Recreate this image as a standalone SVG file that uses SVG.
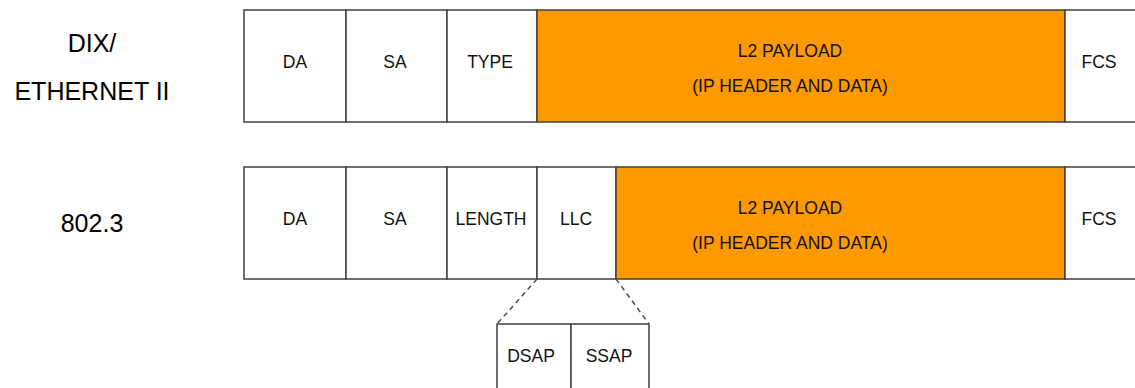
<svg xmlns="http://www.w3.org/2000/svg" width="1135" height="388" viewBox="0 0 1135 388">
<style>
.cell{fill:#ffffff;stroke:#404040;stroke-width:1.5}
.pay{fill:#ff9900;stroke:#404040;stroke-width:1.5}
.t{font-family:"Liberation Sans",Arial,sans-serif;font-size:17.5px;fill:#111;text-anchor:middle}
.lbl{font-family:"Liberation Sans",Arial,sans-serif;font-size:25px;fill:#000;text-anchor:middle}
.dash{stroke:#505050;stroke-width:1.5;stroke-dasharray:5,4;fill:none}
</style>
<rect width="1135" height="388" fill="#ffffff"/>
<g id="label-dix">
<text class="lbl" x="92" y="52">DIX/</text>
<text class="lbl" x="92" y="100">ETHERNET II</text>
</g>
<g id="label-8023">
<text class="lbl" x="92" y="232">802.3</text>
</g>
<g id="frame-dix">
<g id="dix-da"><rect class="cell" x="244" y="10" width="102" height="112"/><text class="t" x="295" y="68">DA</text></g>
<g id="dix-sa"><rect class="cell" x="346" y="10" width="101" height="112"/><text class="t" x="395" y="68">SA</text></g>
<g id="dix-type"><rect class="cell" x="447" y="10" width="90" height="112"/><text class="t" x="490" y="68">TYPE</text></g>
<g id="dix-payload"><rect class="pay" x="537" y="10" width="528" height="112"/><text class="t" x="790" y="57">L2 PAYLOAD</text><text class="t" x="790" y="92">(IP HEADER AND DATA)</text></g>
<g id="dix-fcs"><rect class="cell" x="1065" y="10" width="80" height="112"/><text class="t" x="1099" y="68">FCS</text></g>
</g>
<g id="frame-8023">
<g id="e-da"><rect class="cell" x="244" y="167" width="102" height="112"/><text class="t" x="295" y="225">DA</text></g>
<g id="e-sa"><rect class="cell" x="346" y="167" width="101" height="112"/><text class="t" x="395" y="225">SA</text></g>
<g id="e-length"><rect class="cell" x="447" y="167" width="90" height="112"/><text class="t" x="491" y="225">LENGTH</text></g>
<g id="e-llc"><rect class="cell" x="537" y="167" width="79" height="112"/><text class="t" x="576" y="225">LLC</text></g>
<g id="e-payload"><rect class="pay" x="616" y="167" width="449" height="112"/><text class="t" x="790" y="214">L2 PAYLOAD</text><text class="t" x="790" y="249">(IP HEADER AND DATA)</text></g>
<g id="e-fcs"><rect class="cell" x="1065" y="167" width="80" height="112"/><text class="t" x="1099" y="225">FCS</text></g>
</g>
<g id="llc-detail">
<g id="dsap"><rect class="cell" x="497" y="324" width="74" height="80"/><text class="t" x="531" y="362">DSAP</text></g>
<g id="ssap"><rect class="cell" x="571" y="324" width="78" height="80"/><text class="t" x="609" y="362">SSAP</text></g>
</g>
<g id="connectors">
<line class="dash" x1="537" y1="279" x2="497" y2="324"/>
<line class="dash" x1="616" y1="279" x2="649" y2="324"/>
</g>
</svg>
